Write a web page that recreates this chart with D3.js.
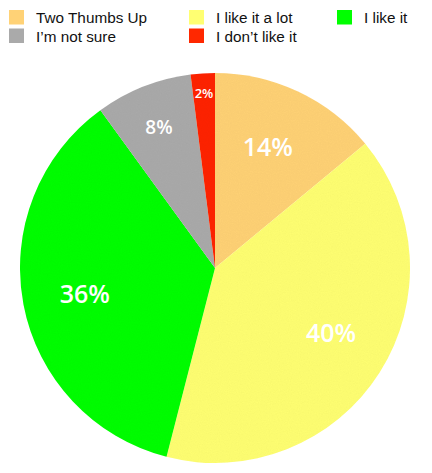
<!DOCTYPE html>
<html><head><meta charset="utf-8">
<script src="https://cdn.jsdelivr.net/npm/d3@7"></script>
<style>body{margin:0;background:#fff}svg{display:block}</style>
</head><body>
<svg id="chart" width="432" height="473"></svg>
<script>
const categories = ["Two Thumbs Up", "I like it a lot", "I like it", "I\u2019m not sure", "I don\u2019t like it"];
const values = [14, 40, 36, 8, 2];
const colors = ["#FFD276", "#FFFF72", "#00FF00", "#AAAAAA", "#FF2800"];
const darkColors = ["#EDB546", "#F2EC55", "#00EE00", "#999999", "#E82000"];
const labels = values.map(v => v + "%");

const svg = d3.select("#chart");
const cx = 215, cy = 268, R = 195;

const defs = svg.append("defs");
const f = defs.append("filter").attr("id", "grain").attr("x", 0).attr("y", 0).attr("width", 1).attr("height", 1);
f.append("feTurbulence").attr("type", "fractalNoise").attr("baseFrequency", 0.9).attr("numOctaves", 2).attr("seed", 3).attr("result", "noise");
f.append("feColorMatrix").attr("in", "noise").attr("type", "matrix")
  .attr("values", "0 0 0 0 0  0 0 0 0 0  0 0 0 0 0  0 0 0 0.07 0").attr("result", "dark");
f.append("feComposite").attr("in", "dark").attr("in2", "SourceGraphic").attr("operator", "in").attr("result", "darkIn");
f.append("feMerge").selectAll("feMergeNode").data(["SourceGraphic", "darkIn"]).join("feMergeNode").attr("in", d => d);

categories.forEach((c, i) => {
  const g = defs.append("radialGradient").attr("id", "grad" + i)
    .attr("gradientUnits", "userSpaceOnUse").attr("cx", cx).attr("cy", cy).attr("r", R);
  g.append("stop").attr("offset", "0%").attr("stop-color", darkColors[i]);
  g.append("stop").attr("offset", "75%").attr("stop-color", colors[i]);
  g.append("stop").attr("offset", "100%").attr("stop-color", colors[i]);
});

const pie = d3.pie().sort(null).value(d => d)(values);
const arc = d3.arc().innerRadius(0).outerRadius(R);

const gp = svg.append("g").attr("transform", `translate(${cx},${cy})`).attr("filter", "url(#grain)");
gp.selectAll("path").data(pie).join("path")
  .attr("d", arc)
  .attr("fill", (d, i) => `url(#grad${i})`);

const lg = svg.append("g").attr("transform", `translate(${cx},${cy})`);
lg.selectAll("text").data(pie).join("text")
  .attr("transform", d => {
    const v = d.data;
    const k = v >= 10 ? 0.68 : (v >= 5 ? 0.78 : 0.9);
    const shift = v >= 38 ? 0.06 : (v >= 10 && v < 30 ? 0.03 : 0);
    const a = (d.startAngle + d.endAngle) / 2 - shift;
    return `translate(${Math.sin(a) * R * k},${-Math.cos(a) * R * k})`;
  })
  .attr("text-anchor", "middle")
  .attr("dominant-baseline", "central")
  .attr("fill", "#fff")
  .attr("font-family", "'Open Sans', sans-serif")
  .attr("font-weight", 600)
  .attr("font-size", d => d.data >= 10 ? 25 : (d.data >= 5 ? 19 : 13))
  .text((d, i) => labels[i]);

const legX = [9, 189, 337];
const legend = svg.append("g");
const items = legend.selectAll("g").data(categories).join("g")
  .attr("transform", (d, i) => `translate(${legX[i % 3]},${10 + Math.floor(i / 3) * 18.5})`);
items.append("rect").attr("width", 15).attr("height", 14.5).attr("fill", (d, i) => colors[i]);
items.append("text").attr("x", 27).attr("y", 13)
  .attr("font-family", "'Liberation Sans', Arial, sans-serif").attr("font-size", 15.3)
  .attr("fill", "#111").text(d => d);
</script>
</body></html>
